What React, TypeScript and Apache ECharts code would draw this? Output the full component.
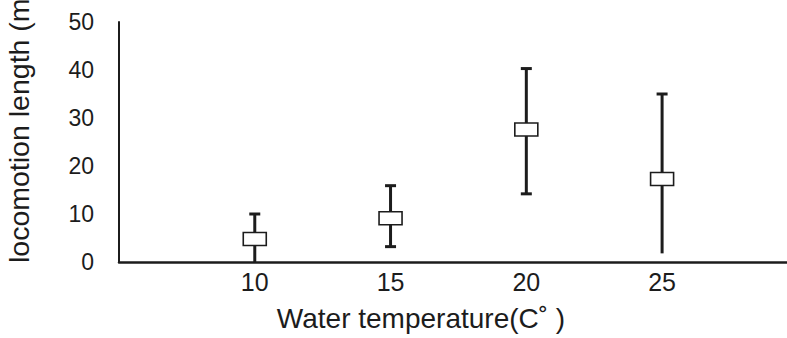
import React, { useEffect, useRef } from "react";
import * as echarts from "echarts";

const temps = [10, 15, 20, 25];
const means = [4.8, 9.1, 27.6, 17.3];
const upper = [10.0, 15.9, 40.3, 35.0];
const lower = [0, 3.2, 14.2, 1.8];
const lowerCapShown = [false, true, true, false];
const yAxisTitle = "locomotion length (mm)";
const xAxisTitle = "Water temperature(C˚ )";

const FONT = "'Liberation Sans', Arial, sans-serif";
const INK = "#1c1c1c";

export default function App() {
  const ref = useRef<HTMLDivElement>(null);
  useEffect(() => {
    if (!ref.current) return;
    const chart = echarts.init(ref.current, null, { renderer: "svg" });
    const data = temps.map((t, i) => [t, means[i], lower[i], upper[i], lowerCapShown[i] ? 1 : 0]);
    chart.setOption({
      animation: false,
      backgroundColor: "#ffffff",
      grid: { left: 119, right: 0, top: 22, bottom: 76, containLabel: false },
      xAxis: {
        type: "value",
        min: 5,
        max: 29.6,
        interval: 5,
        splitLine: { show: false },
        axisTick: { show: false },
        axisLine: { show: true, lineStyle: { color: INK, width: 2.5 } },
        axisLabel: {
          showMinLabel: false,
          showMaxLabel: false,
          color: INK,
          fontSize: 25,
          fontFamily: FONT,
          margin: 7,
          formatter: (v: number) => (v === 5 ? "" : String(v)),
        },
      },
      yAxis: {
        type: "value",
        min: 0,
        max: 50,
        interval: 10,
        splitLine: { show: false },
        axisTick: { show: false },
        axisLine: { show: true, lineStyle: { color: INK, width: 2 } },
        axisLabel: {
          color: INK,
          fontSize: 23,
          fontFamily: FONT,
          margin: 25,
          padding: [9, 0, 0, 0],
        },
      },
      graphic: [
        {
          type: "text",
          x: 19,
          y: 263,
          rotation: Math.PI / 2,
          style: {
            text: yAxisTitle,
            fontSize: 28.5,
            fontFamily: FONT,
            fill: INK,
            textAlign: "left",
            textVerticalAlign: "middle",
          },
        },
        {
          type: "text",
          x: 421,
          y: 318,
          style: {
            text: xAxisTitle,
            fontSize: 28,
            fontFamily: FONT,
            fill: INK,
            textAlign: "center",
            textVerticalAlign: "middle",
          },
        },
      ],
      series: [
        {
          type: "custom",
          data,
          encode: { x: 0, y: [1, 2, 3] },
          clip: false,
          renderItem: (params: any, api: any) => {
            const x = api.value(0);
            const pMean = api.coord([x, api.value(1)]);
            const pLow = api.coord([x, api.value(2)]);
            const pHigh = api.coord([x, api.value(3)]);
            const showLowCap = api.value(4) === 1;
            const capW = 11;
            const boxW = 23;
            const boxH = 13;
            const lineStyle = { stroke: INK, lineWidth: 3 };
            const children: any[] = [
              {
                type: "line",
                shape: { x1: pLow[0], y1: pLow[1], x2: pHigh[0], y2: pHigh[1] },
                style: lineStyle,
              },
              {
                type: "line",
                shape: { x1: pHigh[0] - capW / 2, y1: pHigh[1], x2: pHigh[0] + capW / 2, y2: pHigh[1] },
                style: lineStyle,
              },
            ];
            if (showLowCap) {
              children.push({
                type: "line",
                shape: { x1: pLow[0] - capW / 2, y1: pLow[1], x2: pLow[0] + capW / 2, y2: pLow[1] },
                style: lineStyle,
              });
            }
            children.push({
              type: "rect",
              shape: { x: pMean[0] - boxW / 2, y: pMean[1] - boxH / 2, width: boxW, height: boxH },
              style: { fill: "#ffffff", stroke: INK, lineWidth: 1.6 },
            });
            return { type: "group", children };
          },
        },
      ],
    });
    return () => chart.dispose();
  }, []);
  return (
    <div
      ref={ref}
      style={{ position: "absolute", left: 0, top: 0, width: 787, height: 338, background: "#fff" }}
    />
  );
}
